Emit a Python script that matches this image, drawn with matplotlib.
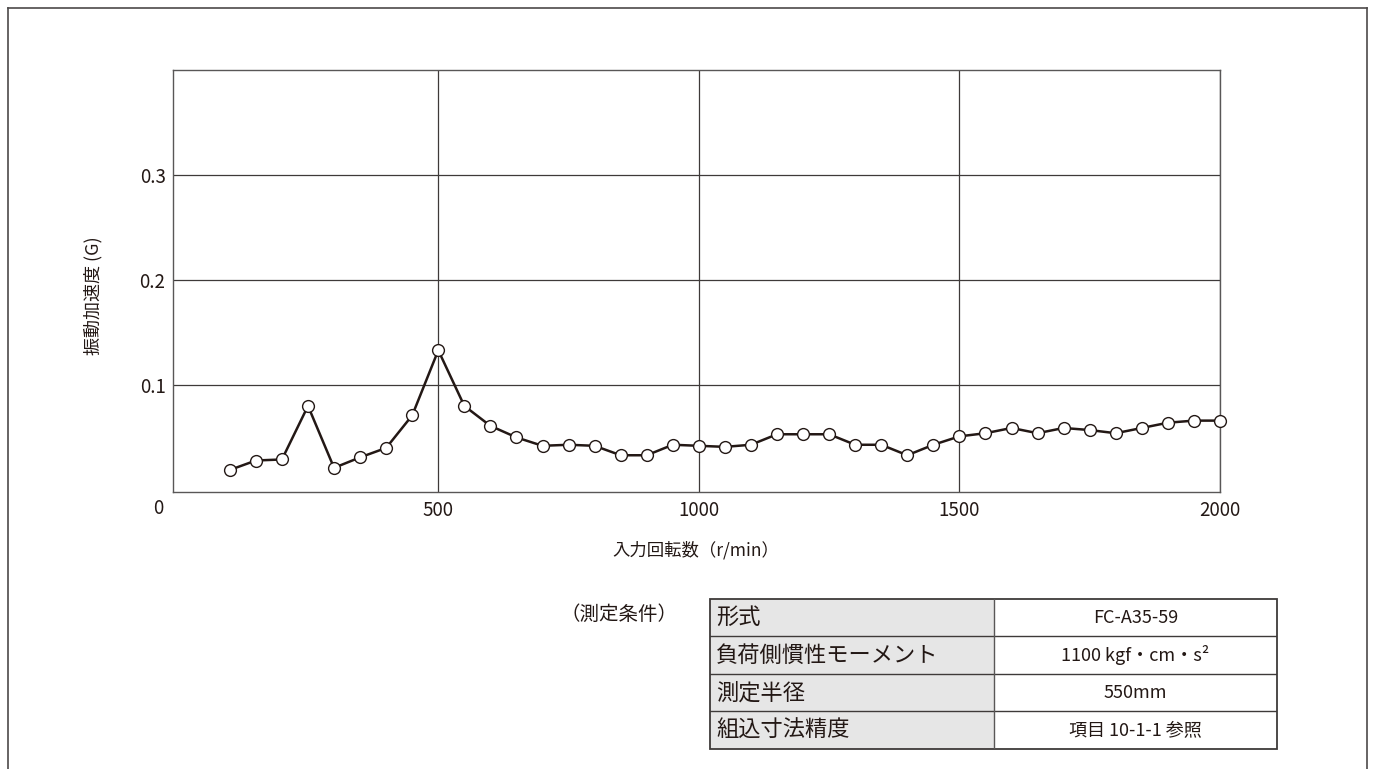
import numpy as np
import matplotlib
matplotlib.use("Agg")
import matplotlib.pyplot as plt
from matplotlib.lines import Line2D
from matplotlib.patches import Rectangle

plt.rcParams['font.family'] = ['Noto Sans CJK JP', 'DejaVu Sans']

# input speed (r/min) and vibration acceleration (G)
speed = [100, 150, 200, 250, 300, 350, 400, 450, 500, 550,
         600, 650, 700, 750, 800, 850, 900, 950, 1000, 1050,
         1100, 1150, 1200, 1250, 1300, 1350, 1400, 1450, 1500, 1550,
         1600, 1650, 1700, 1750, 1800, 1850, 1900, 1950, 2000]
accel = [0.019, 0.028, 0.029, 0.080, 0.021, 0.031, 0.040, 0.071, 0.133, 0.080,
         0.061, 0.050, 0.042, 0.043, 0.042, 0.033, 0.033, 0.043, 0.042, 0.041,
         0.043, 0.053, 0.053, 0.053, 0.043, 0.043, 0.033, 0.043, 0.051, 0.054,
         0.059, 0.054, 0.059, 0.057, 0.054, 0.059, 0.064, 0.066, 0.066]

xticks = [500, 1000, 1500, 2000]
yticks = [0.1, 0.2, 0.3]

cond_title = "（測定条件）"
cond_names = ["形式", "負荷側慣性モーメント", "測定半径", "組込寸法精度"]
cond_values = ["FC-A35-59", "1100 kgf・cm・s²", "550mm", "項目 10-1-1 参照"]

ink = '#231815'
grey = '#595757'

W, H = 1375, 769
fig = plt.figure(figsize=(W / 100, H / 100), dpi=100)

def px(x0, y0, x1, y1):
    # pixel box -> figure fraction rect
    return [x0 / W, 1 - y1 / H, (x1 - x0) / W, (y1 - y0) / H]

ax = fig.add_axes(px(172.5, 70, 1220, 492))
ax.plot(speed, accel, color=ink, lw=1.8, marker='o', markersize=8.5,
        markerfacecolor='white', markeredgecolor=ink, markeredgewidth=1.0,
        zorder=3, clip_on=False)
ax.set_xlim(-10, 2000)
ax.set_ylim(-0.002, 0.4)
ax.set_xticks(xticks)
ax.set_xticklabels([str(t) for t in xticks])
ax.set_yticks(yticks)
ax.set_yticklabels([f"{t:.1f}" for t in yticks])
ax.tick_params(axis='both', length=0, labelsize=13.5, colors=ink)
ax.tick_params(axis='x', pad=6)
ax.tick_params(axis='y', pad=5)
ax.grid(True, color='#3e3a39', lw=0.9)
ax.set_axisbelow(True)
for s in ax.spines.values():
    s.set_color(grey)
    s.set_linewidth(1.0)

ax.annotate("0", xy=(0, 0), xycoords='axes fraction', xytext=(-14, -16),
            textcoords='offset pixels', ha='center', va='center',
            fontsize=13.5, color=ink)

ax.set_xlabel("入力回転数（r/min）", fontsize=12.5, color=ink, va='center')
ax.xaxis.set_label_coords(0.5, -0.137)
ax.set_ylabel("振動加速度 (G)", fontsize=13, color=ink, va='center')
ax.yaxis.set_label_coords(-0.076, 0.465)

# measurement conditions table
tx0, tx1, tdiv = 710, 1277, 994
ty0, ty1 = 599, 749
tab = fig.add_axes(px(tx0, ty0, tx1, ty1))
tab.set_xlim(tx0, tx1)
tab.set_ylim(ty1, ty0)
tab.axis('off')
rh = (ty1 - ty0) / len(cond_names)
tab.add_patch(Rectangle((tx0, ty0), tdiv - tx0, ty1 - ty0,
                        facecolor='#e6e6e6', edgecolor='none'))
for i, (name, val) in enumerate(zip(cond_names, cond_values)):
    yc = ty0 + (i + 0.5) * rh
    tab.text(tx0 + 6, yc, name, ha='left', va='center', fontsize=16, color=ink)
    tab.text((tdiv + tx1) / 2, yc, val, ha='center', va='center', fontsize=13, color=ink)
    if i > 0:
        tab.plot([tx0, tx1], [ty0 + i * rh] * 2, color='#3e3a39', lw=1.0)
tab.plot([tdiv, tdiv], [ty0, ty1], color=grey, lw=1.0)
tab.add_patch(Rectangle((tx0, ty0), tx1 - tx0, ty1 - ty0,
                        facecolor='none', edgecolor='#3e3a39', lw=1.3, clip_on=False))

fig.text(619 / W, 1 - 614 / H, cond_title, ha='center', va='center',
         fontsize=14, color=ink)

# outer frame (open at the bottom)
fx0, fx1, fy0 = 7.5, 1366.5, 8
for xs, ys in [([fx0, fx0], [fy0, H]), ([fx0, fx1], [fy0, fy0]), ([fx1, fx1], [fy0, H])]:
    fig.add_artist(Line2D([x / W for x in xs], [1 - y / H for y in ys],
                          transform=fig.transFigure, color='#4d4949', lw=1.2))

fig.savefig("out.png", dpi=100)
